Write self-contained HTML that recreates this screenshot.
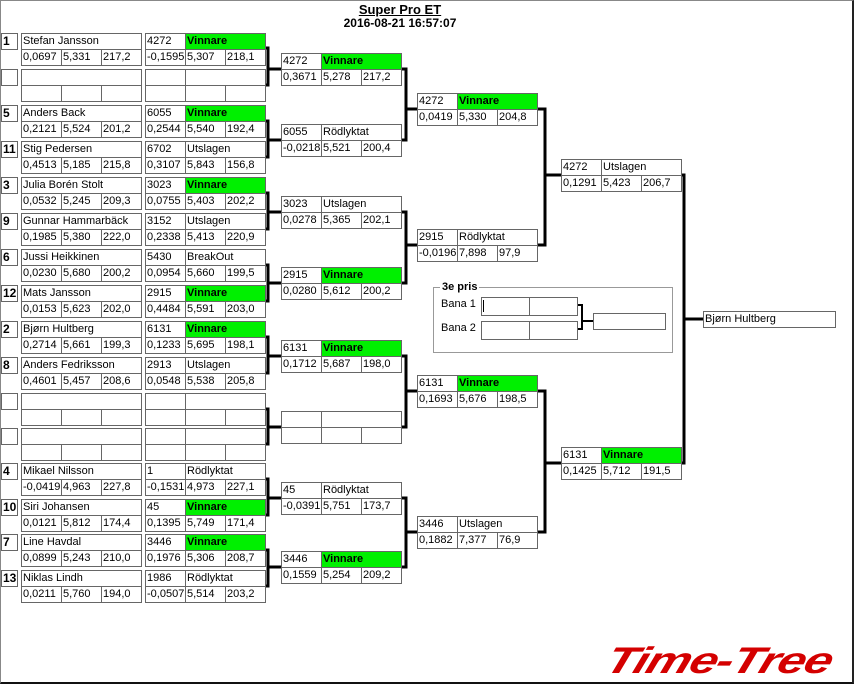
<!DOCTYPE html>
<html><head><meta charset="utf-8"><style>
*{margin:0;padding:0;box-sizing:border-box}
body{width:854px;height:684px;position:relative;background:#fff;overflow:hidden;font-family:"Liberation Sans",sans-serif;font-size:11px;color:#000}
.f{position:absolute;left:0;top:0;width:854px;height:684px;border-left:1px solid #888;border-top:1px solid #888;border-right:2px solid #222;border-bottom:2px solid #111}
.c{position:absolute;height:17px;border:1px solid #666;background:#fff;line-height:15px;padding-left:1px;white-space:nowrap;overflow:hidden}
.g{background:#00f000;font-weight:bold}
.r{position:absolute;left:1px;width:17px;height:17px;border:1px solid #666;font-weight:bold;font-size:12px;line-height:15px;padding-left:1px}
svg{position:absolute;left:0;top:0}
</style></head><body>
<div class="f"></div>
<div style="position:absolute;left:0;width:800px;top:3px;text-align:center;font-weight:bold;font-size:13px;text-decoration:underline;line-height:14px">Super Pro ET</div>
<div style="position:absolute;left:0;width:800px;top:17px;text-align:center;font-weight:bold;font-size:12px;line-height:13px">2016-08-21 16:57:07</div>

<!-- col1 -->
<div class="r" style="top:33px">1</div><div class="c" style="left:21px;top:33px;width:121px">Stefan Jansson</div><div class="c" style="left:21px;top:49px;width:41px">0,0697</div><div class="c" style="left:61px;top:49px;width:41px">5,331</div><div class="c" style="left:101px;top:49px;width:41px">217,2</div>
<div class="r" style="top:69px"></div><div class="c" style="left:21px;top:69px;width:121px"></div><div class="c" style="left:21px;top:85px;width:41px"></div><div class="c" style="left:61px;top:85px;width:41px"></div><div class="c" style="left:101px;top:85px;width:41px"></div>
<div class="r" style="top:105px">5</div><div class="c" style="left:21px;top:105px;width:121px">Anders Back</div><div class="c" style="left:21px;top:121px;width:41px">0,2121</div><div class="c" style="left:61px;top:121px;width:41px">5,524</div><div class="c" style="left:101px;top:121px;width:41px">201,2</div>
<div class="r" style="top:141px">11</div><div class="c" style="left:21px;top:141px;width:121px">Stig Pedersen</div><div class="c" style="left:21px;top:157px;width:41px">0,4513</div><div class="c" style="left:61px;top:157px;width:41px">5,185</div><div class="c" style="left:101px;top:157px;width:41px">215,8</div>
<div class="r" style="top:177px">3</div><div class="c" style="left:21px;top:177px;width:121px">Julia Borén Stolt</div><div class="c" style="left:21px;top:193px;width:41px">0,0532</div><div class="c" style="left:61px;top:193px;width:41px">5,245</div><div class="c" style="left:101px;top:193px;width:41px">209,3</div>
<div class="r" style="top:213px">9</div><div class="c" style="left:21px;top:213px;width:121px">Gunnar Hammarbäck</div><div class="c" style="left:21px;top:229px;width:41px">0,1985</div><div class="c" style="left:61px;top:229px;width:41px">5,380</div><div class="c" style="left:101px;top:229px;width:41px">222,0</div>
<div class="r" style="top:249px">6</div><div class="c" style="left:21px;top:249px;width:121px">Jussi Heikkinen</div><div class="c" style="left:21px;top:265px;width:41px">0,0230</div><div class="c" style="left:61px;top:265px;width:41px">5,680</div><div class="c" style="left:101px;top:265px;width:41px">200,2</div>
<div class="r" style="top:285px">12</div><div class="c" style="left:21px;top:285px;width:121px">Mats Jansson</div><div class="c" style="left:21px;top:301px;width:41px">0,0153</div><div class="c" style="left:61px;top:301px;width:41px">5,623</div><div class="c" style="left:101px;top:301px;width:41px">202,0</div>
<div class="r" style="top:321px">2</div><div class="c" style="left:21px;top:321px;width:121px">Bjørn Hultberg</div><div class="c" style="left:21px;top:337px;width:41px">0,2714</div><div class="c" style="left:61px;top:337px;width:41px">5,661</div><div class="c" style="left:101px;top:337px;width:41px">199,3</div>
<div class="r" style="top:357px">8</div><div class="c" style="left:21px;top:357px;width:121px">Anders Fedriksson</div><div class="c" style="left:21px;top:373px;width:41px">0,4601</div><div class="c" style="left:61px;top:373px;width:41px">5,457</div><div class="c" style="left:101px;top:373px;width:41px">208,6</div>
<div class="r" style="top:393px"></div><div class="c" style="left:21px;top:393px;width:121px"></div><div class="c" style="left:21px;top:409px;width:41px"></div><div class="c" style="left:61px;top:409px;width:41px"></div><div class="c" style="left:101px;top:409px;width:41px"></div>
<div class="r" style="top:428px"></div><div class="c" style="left:21px;top:428px;width:121px"></div><div class="c" style="left:21px;top:444px;width:41px"></div><div class="c" style="left:61px;top:444px;width:41px"></div><div class="c" style="left:101px;top:444px;width:41px"></div>
<div class="r" style="top:463px">4</div><div class="c" style="left:21px;top:463px;width:121px">Mikael Nilsson</div><div class="c" style="left:21px;top:479px;width:41px">-0,0419</div><div class="c" style="left:61px;top:479px;width:41px">4,963</div><div class="c" style="left:101px;top:479px;width:41px">227,8</div>
<div class="r" style="top:499px">10</div><div class="c" style="left:21px;top:499px;width:121px">Siri Johansen</div><div class="c" style="left:21px;top:515px;width:41px">0,0121</div><div class="c" style="left:61px;top:515px;width:41px">5,812</div><div class="c" style="left:101px;top:515px;width:41px">174,4</div>
<div class="r" style="top:534px">7</div><div class="c" style="left:21px;top:534px;width:121px">Line Havdal</div><div class="c" style="left:21px;top:550px;width:41px">0,0899</div><div class="c" style="left:61px;top:550px;width:41px">5,243</div><div class="c" style="left:101px;top:550px;width:41px">210,0</div>
<div class="r" style="top:570px">13</div><div class="c" style="left:21px;top:570px;width:121px">Niklas Lindh</div><div class="c" style="left:21px;top:586px;width:41px">0,0211</div><div class="c" style="left:61px;top:586px;width:41px">5,760</div><div class="c" style="left:101px;top:586px;width:41px">194,0</div>

<!-- col2 -->
<div class="c" style="left:145px;top:33px;width:41px">4272</div><div class="c g" style="left:185px;top:33px;width:81px">Vinnare</div><div class="c" style="left:145px;top:49px;width:41px">-0,1595</div><div class="c" style="left:185px;top:49px;width:41px">5,307</div><div class="c" style="left:225px;top:49px;width:41px">218,1</div>
<div class="c" style="left:145px;top:69px;width:41px"></div><div class="c" style="left:185px;top:69px;width:81px"></div><div class="c" style="left:145px;top:85px;width:41px"></div><div class="c" style="left:185px;top:85px;width:41px"></div><div class="c" style="left:225px;top:85px;width:41px"></div>
<div class="c" style="left:145px;top:105px;width:41px">6055</div><div class="c g" style="left:185px;top:105px;width:81px">Vinnare</div><div class="c" style="left:145px;top:121px;width:41px">0,2544</div><div class="c" style="left:185px;top:121px;width:41px">5,540</div><div class="c" style="left:225px;top:121px;width:41px">192,4</div>
<div class="c" style="left:145px;top:141px;width:41px">6702</div><div class="c" style="left:185px;top:141px;width:81px">Utslagen</div><div class="c" style="left:145px;top:157px;width:41px">0,3107</div><div class="c" style="left:185px;top:157px;width:41px">5,843</div><div class="c" style="left:225px;top:157px;width:41px">156,8</div>
<div class="c" style="left:145px;top:177px;width:41px">3023</div><div class="c g" style="left:185px;top:177px;width:81px">Vinnare</div><div class="c" style="left:145px;top:193px;width:41px">0,0755</div><div class="c" style="left:185px;top:193px;width:41px">5,403</div><div class="c" style="left:225px;top:193px;width:41px">202,2</div>
<div class="c" style="left:145px;top:213px;width:41px">3152</div><div class="c" style="left:185px;top:213px;width:81px">Utslagen</div><div class="c" style="left:145px;top:229px;width:41px">0,2338</div><div class="c" style="left:185px;top:229px;width:41px">5,413</div><div class="c" style="left:225px;top:229px;width:41px">220,9</div>
<div class="c" style="left:145px;top:249px;width:41px">5430</div><div class="c" style="left:185px;top:249px;width:81px">BreakOut</div><div class="c" style="left:145px;top:265px;width:41px">0,0954</div><div class="c" style="left:185px;top:265px;width:41px">5,660</div><div class="c" style="left:225px;top:265px;width:41px">199,5</div>
<div class="c" style="left:145px;top:285px;width:41px">2915</div><div class="c g" style="left:185px;top:285px;width:81px">Vinnare</div><div class="c" style="left:145px;top:301px;width:41px">0,4484</div><div class="c" style="left:185px;top:301px;width:41px">5,591</div><div class="c" style="left:225px;top:301px;width:41px">203,0</div>
<div class="c" style="left:145px;top:321px;width:41px">6131</div><div class="c g" style="left:185px;top:321px;width:81px">Vinnare</div><div class="c" style="left:145px;top:337px;width:41px">0,1233</div><div class="c" style="left:185px;top:337px;width:41px">5,695</div><div class="c" style="left:225px;top:337px;width:41px">198,1</div>
<div class="c" style="left:145px;top:357px;width:41px">2913</div><div class="c" style="left:185px;top:357px;width:81px">Utslagen</div><div class="c" style="left:145px;top:373px;width:41px">0,0548</div><div class="c" style="left:185px;top:373px;width:41px">5,538</div><div class="c" style="left:225px;top:373px;width:41px">205,8</div>
<div class="c" style="left:145px;top:393px;width:41px"></div><div class="c" style="left:185px;top:393px;width:81px"></div><div class="c" style="left:145px;top:409px;width:41px"></div><div class="c" style="left:185px;top:409px;width:41px"></div><div class="c" style="left:225px;top:409px;width:41px"></div>
<div class="c" style="left:145px;top:428px;width:41px"></div><div class="c" style="left:185px;top:428px;width:81px"></div><div class="c" style="left:145px;top:444px;width:41px"></div><div class="c" style="left:185px;top:444px;width:41px"></div><div class="c" style="left:225px;top:444px;width:41px"></div>
<div class="c" style="left:145px;top:463px;width:41px">1</div><div class="c" style="left:185px;top:463px;width:81px">Rödlyktat</div><div class="c" style="left:145px;top:479px;width:41px">-0,1531</div><div class="c" style="left:185px;top:479px;width:41px">4,973</div><div class="c" style="left:225px;top:479px;width:41px">227,1</div>
<div class="c" style="left:145px;top:499px;width:41px">45</div><div class="c g" style="left:185px;top:499px;width:81px">Vinnare</div><div class="c" style="left:145px;top:515px;width:41px">0,1395</div><div class="c" style="left:185px;top:515px;width:41px">5,749</div><div class="c" style="left:225px;top:515px;width:41px">171,4</div>
<div class="c" style="left:145px;top:534px;width:41px">3446</div><div class="c g" style="left:185px;top:534px;width:81px">Vinnare</div><div class="c" style="left:145px;top:550px;width:41px">0,1976</div><div class="c" style="left:185px;top:550px;width:41px">5,306</div><div class="c" style="left:225px;top:550px;width:41px">208,7</div>
<div class="c" style="left:145px;top:570px;width:41px">1986</div><div class="c" style="left:185px;top:570px;width:81px">Rödlyktat</div><div class="c" style="left:145px;top:586px;width:41px">-0,0507</div><div class="c" style="left:185px;top:586px;width:41px">5,514</div><div class="c" style="left:225px;top:586px;width:41px">203,2</div>

<!-- col3 -->
<div class="c" style="left:281px;top:53px;width:41px">4272</div><div class="c g" style="left:321px;top:53px;width:81px">Vinnare</div><div class="c" style="left:281px;top:69px;width:41px">0,3671</div><div class="c" style="left:321px;top:69px;width:41px">5,278</div><div class="c" style="left:361px;top:69px;width:41px">217,2</div>
<div class="c" style="left:281px;top:124px;width:41px">6055</div><div class="c" style="left:321px;top:124px;width:81px">Rödlyktat</div><div class="c" style="left:281px;top:140px;width:41px">-0,0218</div><div class="c" style="left:321px;top:140px;width:41px">5,521</div><div class="c" style="left:361px;top:140px;width:41px">200,4</div>
<div class="c" style="left:281px;top:196px;width:41px">3023</div><div class="c" style="left:321px;top:196px;width:81px">Utslagen</div><div class="c" style="left:281px;top:212px;width:41px">0,0278</div><div class="c" style="left:321px;top:212px;width:41px">5,365</div><div class="c" style="left:361px;top:212px;width:41px">202,1</div>
<div class="c" style="left:281px;top:267px;width:41px">2915</div><div class="c g" style="left:321px;top:267px;width:81px">Vinnare</div><div class="c" style="left:281px;top:283px;width:41px">0,0280</div><div class="c" style="left:321px;top:283px;width:41px">5,612</div><div class="c" style="left:361px;top:283px;width:41px">200,2</div>
<div class="c" style="left:281px;top:340px;width:41px">6131</div><div class="c g" style="left:321px;top:340px;width:81px">Vinnare</div><div class="c" style="left:281px;top:356px;width:41px">0,1712</div><div class="c" style="left:321px;top:356px;width:41px">5,687</div><div class="c" style="left:361px;top:356px;width:41px">198,0</div>
<div class="c" style="left:281px;top:411px;width:41px"></div><div class="c" style="left:321px;top:411px;width:81px"></div><div class="c" style="left:281px;top:427px;width:41px"></div><div class="c" style="left:321px;top:427px;width:41px"></div><div class="c" style="left:361px;top:427px;width:41px"></div>
<div class="c" style="left:281px;top:482px;width:41px">45</div><div class="c" style="left:321px;top:482px;width:81px">Rödlyktat</div><div class="c" style="left:281px;top:498px;width:41px">-0,0391</div><div class="c" style="left:321px;top:498px;width:41px">5,751</div><div class="c" style="left:361px;top:498px;width:41px">173,7</div>
<div class="c" style="left:281px;top:551px;width:41px">3446</div><div class="c g" style="left:321px;top:551px;width:81px">Vinnare</div><div class="c" style="left:281px;top:567px;width:41px">0,1559</div><div class="c" style="left:321px;top:567px;width:41px">5,254</div><div class="c" style="left:361px;top:567px;width:41px">209,2</div>

<!-- col4 -->
<div class="c" style="left:417px;top:93px;width:41px">4272</div><div class="c g" style="left:457px;top:93px;width:81px">Vinnare</div><div class="c" style="left:417px;top:109px;width:41px">0,0419</div><div class="c" style="left:457px;top:109px;width:41px">5,330</div><div class="c" style="left:497px;top:109px;width:41px">204,8</div>
<div class="c" style="left:417px;top:229px;width:41px">2915</div><div class="c" style="left:457px;top:229px;width:81px">Rödlyktat</div><div class="c" style="left:417px;top:245px;width:41px">-0,0196</div><div class="c" style="left:457px;top:245px;width:41px">7,898</div><div class="c" style="left:497px;top:245px;width:41px">97,9</div>
<div class="c" style="left:417px;top:375px;width:41px">6131</div><div class="c g" style="left:457px;top:375px;width:81px">Vinnare</div><div class="c" style="left:417px;top:391px;width:41px">0,1693</div><div class="c" style="left:457px;top:391px;width:41px">5,676</div><div class="c" style="left:497px;top:391px;width:41px">198,5</div>
<div class="c" style="left:417px;top:516px;width:41px">3446</div><div class="c" style="left:457px;top:516px;width:81px">Utslagen</div><div class="c" style="left:417px;top:532px;width:41px">0,1882</div><div class="c" style="left:457px;top:532px;width:41px">7,377</div><div class="c" style="left:497px;top:532px;width:41px">76,9</div>

<!-- col5 -->
<div class="c" style="left:561px;top:159px;width:41px">4272</div><div class="c" style="left:601px;top:159px;width:81px">Utslagen</div><div class="c" style="left:561px;top:175px;width:41px">0,1291</div><div class="c" style="left:601px;top:175px;width:41px">5,423</div><div class="c" style="left:641px;top:175px;width:41px">206,7</div>
<div class="c" style="left:561px;top:447px;width:41px">6131</div><div class="c g" style="left:601px;top:447px;width:81px">Vinnare</div><div class="c" style="left:561px;top:463px;width:41px">0,1425</div><div class="c" style="left:601px;top:463px;width:41px">5,712</div><div class="c" style="left:641px;top:463px;width:41px">191,5</div>

<div class="c" style="left:703px;top:311px;width:133px">Bjørn Hultberg</div>

<!-- 3e pris -->
<div style="position:absolute;left:433px;top:287px;width:240px;height:66px;border:1px solid #999"></div>
<div style="position:absolute;left:440px;top:280px;background:#fff;padding:0 2px;font-weight:bold;font-size:11px;line-height:14px">3e pris</div>
<div style="position:absolute;left:441px;top:297px;line-height:14px">Bana 1</div>
<div style="position:absolute;left:441px;top:321px;line-height:14px">Bana 2</div>
<div class="c" style="left:481px;top:297px;width:49px;height:19px"><span style="display:inline-block;width:1px;height:12px;background:#000;margin-top:2px"></span></div><div class="c" style="left:529px;top:297px;width:49px;height:19px"></div>
<div class="c" style="left:481px;top:321px;width:49px;height:19px"></div><div class="c" style="left:529px;top:321px;width:49px;height:19px"></div>
<div class="c" style="left:593px;top:313px;width:73px"></div>

<svg width="854" height="684" fill="none" stroke="#000" stroke-width="3">
<path d="M266 48H268V85H266M268 69H281"/>
<path d="M266 121H268V157H266M268 140H281"/>
<path d="M266 193H268V229H266M268 212H281"/>
<path d="M266 265H268V301H266M268 283H281"/>
<path d="M266 337H268V373H266M268 356H281"/>
<path d="M266 409H268V444H266M268 427H281"/>
<path d="M266 479H268V515H266M268 498H281"/>
<path d="M266 550H268V586H266M268 567H281"/>
<path d="M402 69H406V140H402M406 109H417"/>
<path d="M402 212H406V283H402M406 245H417"/>
<path d="M402 356H406V427H402M406 391H417"/>
<path d="M402 498H406V567H402M406 532H417"/>
<path d="M538 109H545V245H538M545 175H561"/>
<path d="M538 391H545V532H538M545 463H561"/>
<path d="M682 175H684V463H682M684 319H703"/>
<path d="M578 305H582V329H578M582 321H593" stroke-width="2"/>
</svg>

<div style="position:absolute;left:614px;top:640px;font-family:'Liberation Sans',sans-serif;font-weight:bold;font-style:italic;font-size:37px;line-height:42px;color:#d40000;letter-spacing:-1px;white-space:nowrap;transform-origin:0 0;transform:scaleX(1.35) skewX(-14deg)">Time-Tree</div>
</body></html>
